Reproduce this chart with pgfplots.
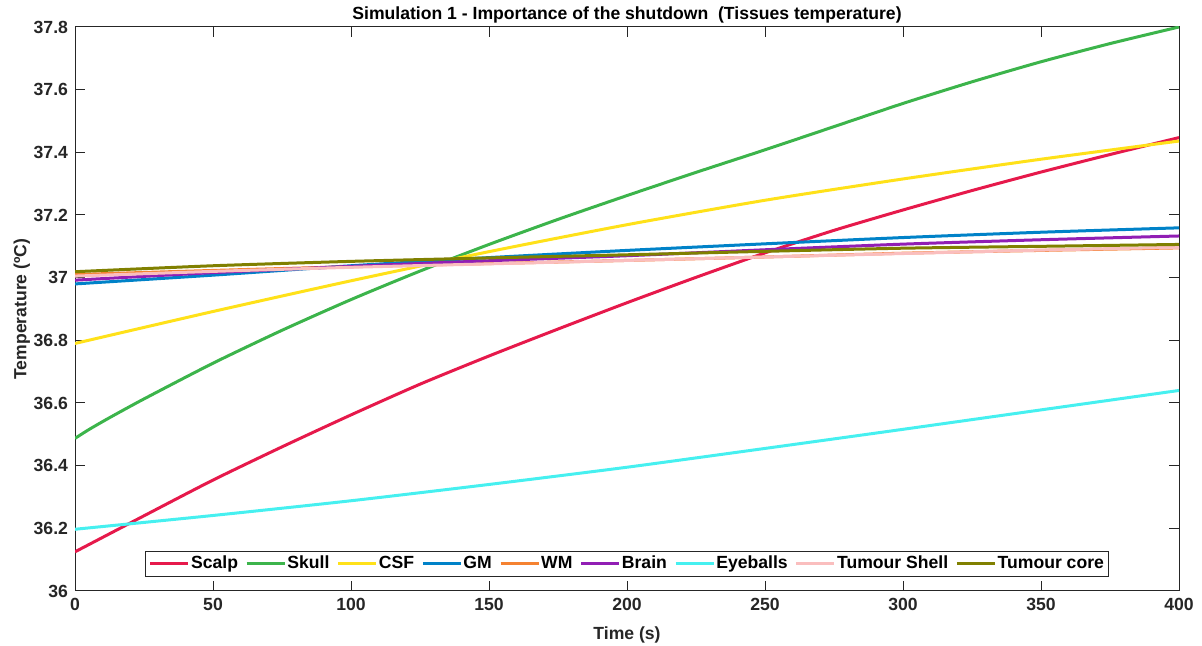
\documentclass[border=0pt]{standalone}
\usepackage{fontspec}
\setmainfont{Liberation Sans}
\usepackage{pgfplots}
\pgfplotsset{compat=1.18}
\definecolor{cScalp}{HTML}{E6194B}
\definecolor{cSkull}{HTML}{3CB44B}
\definecolor{cCSF}{HTML}{FFE119}
\definecolor{cGM}{HTML}{0082C8}
\definecolor{cWM}{HTML}{F58231}
\definecolor{cBrain}{HTML}{911EB4}
\definecolor{cEye}{HTML}{46F0F0}
\definecolor{cShell}{HTML}{FABEBE}
\definecolor{cCore}{HTML}{808000}
\definecolor{axgray}{RGB}{38,38,38}
\newcommand{\f}{\fontsize{8.8}{10}\selectfont\bfseries}
\begin{document}
\begin{tikzpicture}
\begin{axis}[
  name=ax,
  scale only axis,
  width=552pt, height=282pt,
  xmin=0, xmax=400, ymin=36, ymax=37.8,
  xtick={0,50,...,400},
  ytick={36,36.2,...,37.81},
  tick align=inside,
  xtick pos=both, ytick pos=both,
  major tick length=5pt,
  axis line style={axgray, line width=0.5pt},
  tick style={axgray, line width=0.5pt},
  every tick label/.append style={font=\f, text=axgray},
  /pgf/number format/assume math mode=true,
  yticklabel style={/pgf/number format/fixed, /pgf/number format/precision=1},
  xlabel={\f Time (s)},
  ylabel={\f Temperature (ºC)},
  label style={text=axgray},
  xlabel style={yshift=-1pt},
  ylabel style={yshift=-5pt},
  legend columns=9,
  legend style={at={(0.5,0)}, anchor=south, yshift=7pt, draw=axgray, line width=0.5pt,
    font=\f, inner sep=1.5pt, row sep=0pt,
    nodes={inner sep=0.6pt, text height=6.6pt, text depth=1.9pt},
    /tikz/every even column/.append style={column sep=3pt}},
  legend image code/.code={\draw[#1, line width=1.5pt] (0pt,0pt) -- (19pt,0pt);},
  legend cell align=left,
  every axis plot/.append style={line width=1.5pt, smooth, tension=0.4},
]
\addplot[cScalp] coordinates {(0,36.125) (25,36.240) (50,36.354) (75,36.460) (100,36.562) (125,36.660) (150,36.750) (175,36.836) (200,36.920) (225,37.001) (250,37.079) (275,37.151) (300,37.216) (325,37.278) (350,37.337) (375,37.393) (400,37.447)};
\addlegendentry{Scalp}
\addplot[cSkull] coordinates {(0,36.487) (5,36.515) (12.5,36.553) (25,36.613) (50,36.727) (75,36.832) (100,36.930) (125,37.021) (150,37.106) (175,37.186) (200,37.262) (225,37.336) (250,37.408) (275,37.482) (300,37.556) (325,37.625) (350,37.689) (375,37.747) (400,37.80)};
\addlegendentry{Skull}
\addplot[cCSF] coordinates {(0,36.79) (50,36.892) (100,36.99) (150,37.083) (200,37.169) (250,37.247) (300,37.315) (350,37.378) (400,37.436)};
\addlegendentry{CSF}
\addplot[cGM] coordinates {(0,36.98) (50,37.008) (100,37.038) (150,37.064) (200,37.087) (250,37.108) (300,37.128) (350,37.145) (400,37.159)};
\addlegendentry{GM}
\addplot[cWM] coordinates {(0,37.010) (50,37.023) (100,37.035) (150,37.045) (200,37.055) (250,37.066) (300,37.078) (350,37.087) (400,37.095)};
\addlegendentry{WM}
\addplot[cBrain] coordinates {(0,36.992) (50,37.016) (100,37.036) (150,37.054) (200,37.07) (250,37.089) (300,37.107) (350,37.121) (400,37.133)};
\addlegendentry{Brain}
\addplot[cEye] coordinates {(0,36.197) (50,36.241) (100,36.288) (150,36.340) (200,36.395) (250,36.455) (300,36.516) (350,36.578) (400,36.64)};
\addlegendentry{Eyeballs}
\addplot[cShell] coordinates {(0,37.005) (50,37.02) (100,37.033) (150,37.044) (200,37.055) (250,37.066) (300,37.077) (350,37.088) (400,37.097)};
\addlegendentry{Tumour Shell}
\addplot[cCore] coordinates {(0,37.019) (50,37.038) (100,37.052) (150,37.063) (200,37.073) (250,37.084) (300,37.094) (350,37.100) (400,37.106)};
\addlegendentry{Tumour core}
\end{axis}
\node[anchor=base, inner sep=0pt, font=\f] at ([yshift=3.5pt]ax.north) {Simulation 1 - Importance of the shutdown\ \ (Tissues temperature)};
\pgfresetboundingbox
\path ([xshift=-37.5pt,yshift=-27.5pt]ax.south west) rectangle ([xshift=11.5pt,yshift=13.5pt]ax.north east);
\end{tikzpicture}
\end{document}
